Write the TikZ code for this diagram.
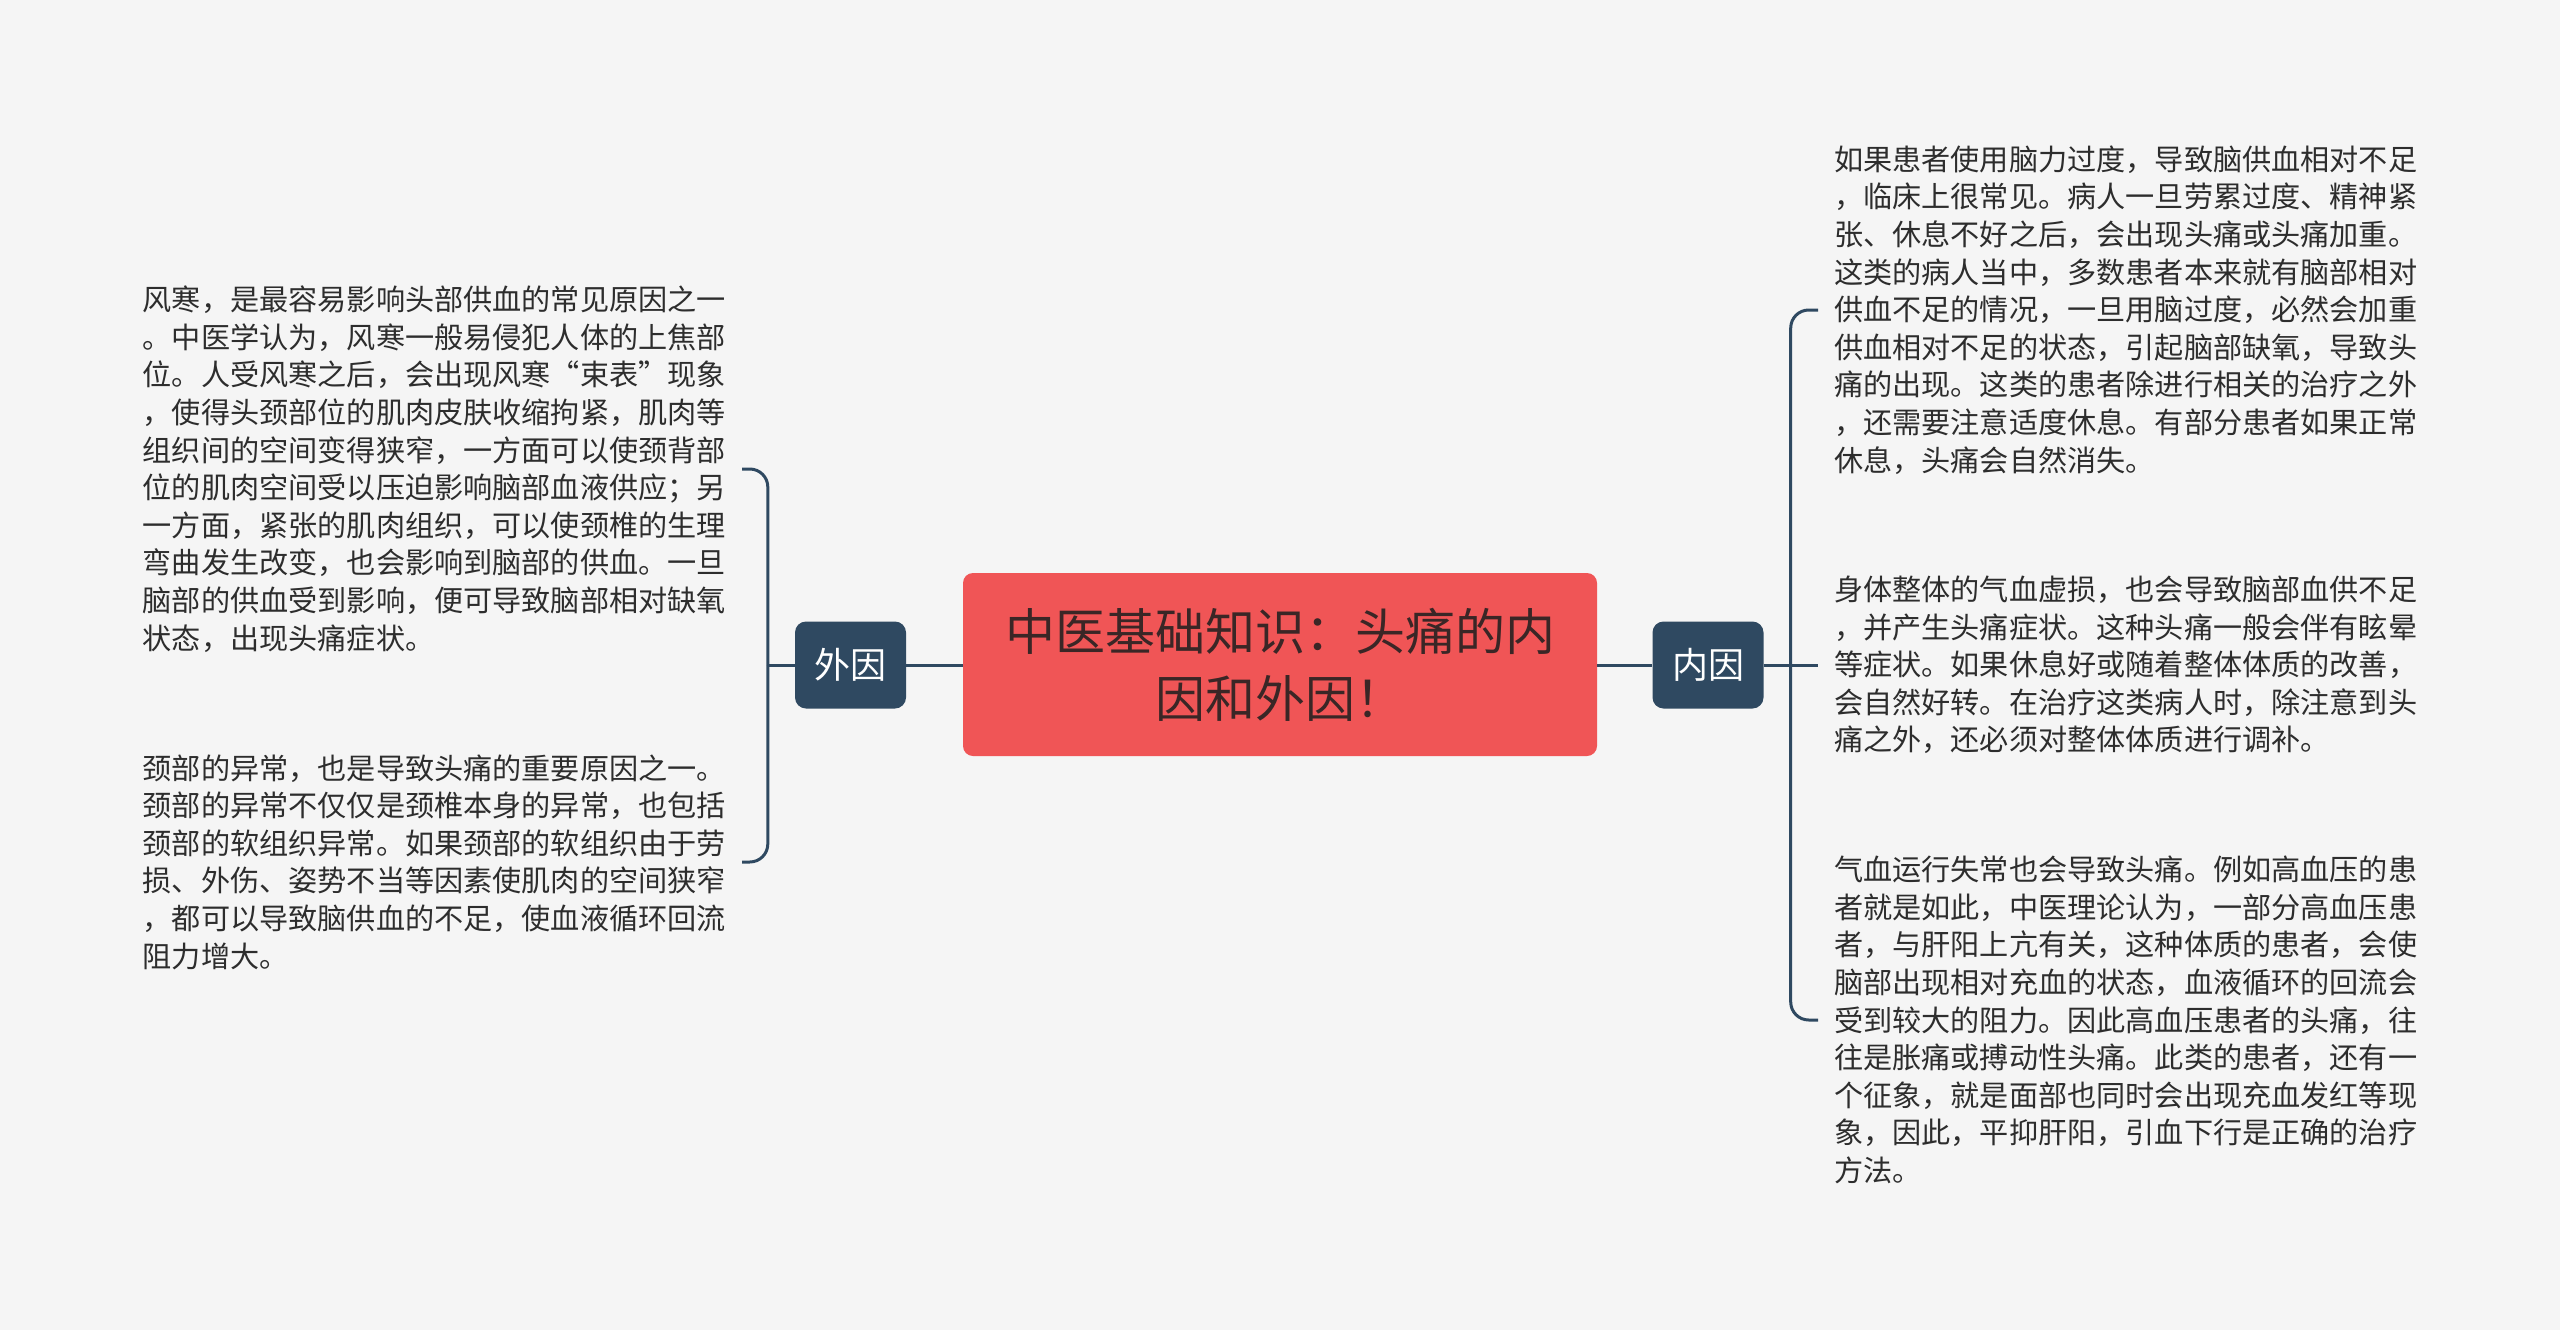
\documentclass[tikz,border=0pt]{standalone}
\usepackage{fontspec}
\setmainfont{Noto Sans CJK SC}
\definecolor{bgc}{RGB}{245,245,245}
\definecolor{navy}{RGB}{47,73,97}
\definecolor{rootred}{RGB}{240,85,86}
\definecolor{roottext}{RGB}{58,38,38}
\definecolor{leaftext}{RGB}{45,45,45}
\begin{document}
\begin{tikzpicture}[x=1pt,y=-1pt,
  root/.style={fill=rootred,rounded corners=10pt,minimum width=634pt,minimum height=183pt,
    align=center,text=roottext,font=\fontsize{50pt}{67pt}\selectfont,inner sep=0pt},
  sub/.style={fill=navy,rounded corners=11pt,minimum width=111pt,minimum height=87pt,
    text=white,font=\fontsize{36pt}{40pt}\selectfont,inner sep=0pt},
  leaf/.style={text width=583pt,align=left,text=leaftext,
    font=\fontsize{29.15pt}{37.6pt}\selectfont,inner xsep=16pt,inner ysep=0pt},
  conn/.style={draw=navy,line width=3pt,rounded corners=18pt}
]
\fill[bgc] (0,0) rectangle (2560,1330);
\useasboundingbox (0,0) rectangle (2560,1330);

\node[root] (root) at (1280,664.5) {中医基础知识：头痛的内\\因和外因！};
\node[sub] (wai) at (850.5,665) {外因};
\node[sub] (nei) at (1708,665) {内因};

\node[leaf,anchor=east] (l1) at (742,469) {风寒，是最容易影响头部供血的常见原因之一\\。中医学认为，风寒一般易侵犯人体的上焦部\\位。人受风寒之后，会出现风寒“束表”现象\\，使得头颈部位的肌肉皮肤收缩拘紧，肌肉等\\组织间的空间变得狭窄，一方面可以使颈背部\\位的肌肉空间受以压迫影响脑部血液供应；另\\一方面，紧张的肌肉组织，可以使颈椎的生理\\弯曲发生改变，也会影响到脑部的供血。一旦\\脑部的供血受到影响，便可导致脑部相对缺氧\\状态，出现头痛症状。};
\node[leaf,anchor=east] (l2) at (742,862) {颈部的异常，也是导致头痛的重要原因之一。\\颈部的异常不仅仅是颈椎本身的异常，也包括\\颈部的软组织异常。如果颈部的软组织由于劳\\损、外伤、姿势不当等因素使肌肉的空间狭窄\\，都可以导致脑供血的不足，使血液循环回流\\阻力增大。};

\node[leaf,anchor=west] (r1) at (1818,310) {如果患者使用脑力过度，导致脑供血相对不足\\，临床上很常见。病人一旦劳累过度、精神紧\\张、休息不好之后，会出现头痛或头痛加重。\\这类的病人当中，多数患者本来就有脑部相对\\供血不足的情况，一旦用脑过度，必然会加重\\供血相对不足的状态，引起脑部缺氧，导致头\\痛的出现。这类的患者除进行相关的治疗之外\\，还需要注意适度休息。有部分患者如果正常\\休息，头痛会自然消失。};
\node[leaf,anchor=west] (r2) at (1818,665) {身体整体的气血虚损，也会导致脑部血供不足\\，并产生头痛症状。这种头痛一般会伴有眩晕\\等症状。如果休息好或随着整体体质的改善，\\会自然好转。在治疗这类病人时，除注意到头\\痛之外，还必须对整体体质进行调补。};
\node[leaf,anchor=west] (r3) at (1818,1020) {气血运行失常也会导致头痛。例如高血压的患\\者就是如此，中医理论认为，一部分高血压患\\者，与肝阳上亢有关，这种体质的患者，会使\\脑部出现相对充血的状态，血液循环的回流会\\受到较大的阻力。因此高血压患者的头痛，往\\往是胀痛或搏动性头痛。此类的患者，还有一\\个征象，就是面部也同时会出现充血发红等现\\象，因此，平抑肝阳，引血下行是正确的治疗\\方法。};

\coordinate (wj) at ([xshift=-27pt]wai.west);
\coordinate (nj) at ([xshift=27pt]nei.east);

\draw[conn] (root.west |- wai.east) -- (wai.east);
\draw[conn] (root.east |- nei.west) -- (nei.west);
\draw[conn] (wai.west) -- (wj);
\draw[conn] (nei.east) -- (nj);
\draw[conn] (wj) |- (l1.east);
\draw[conn] (wj) |- (l2.east);
\draw[conn] (nj) |- (r1.west);
\draw[conn] (nj) -- (r2.west);
\draw[conn] (nj) |- (r3.west);
\end{tikzpicture}
\end{document}
